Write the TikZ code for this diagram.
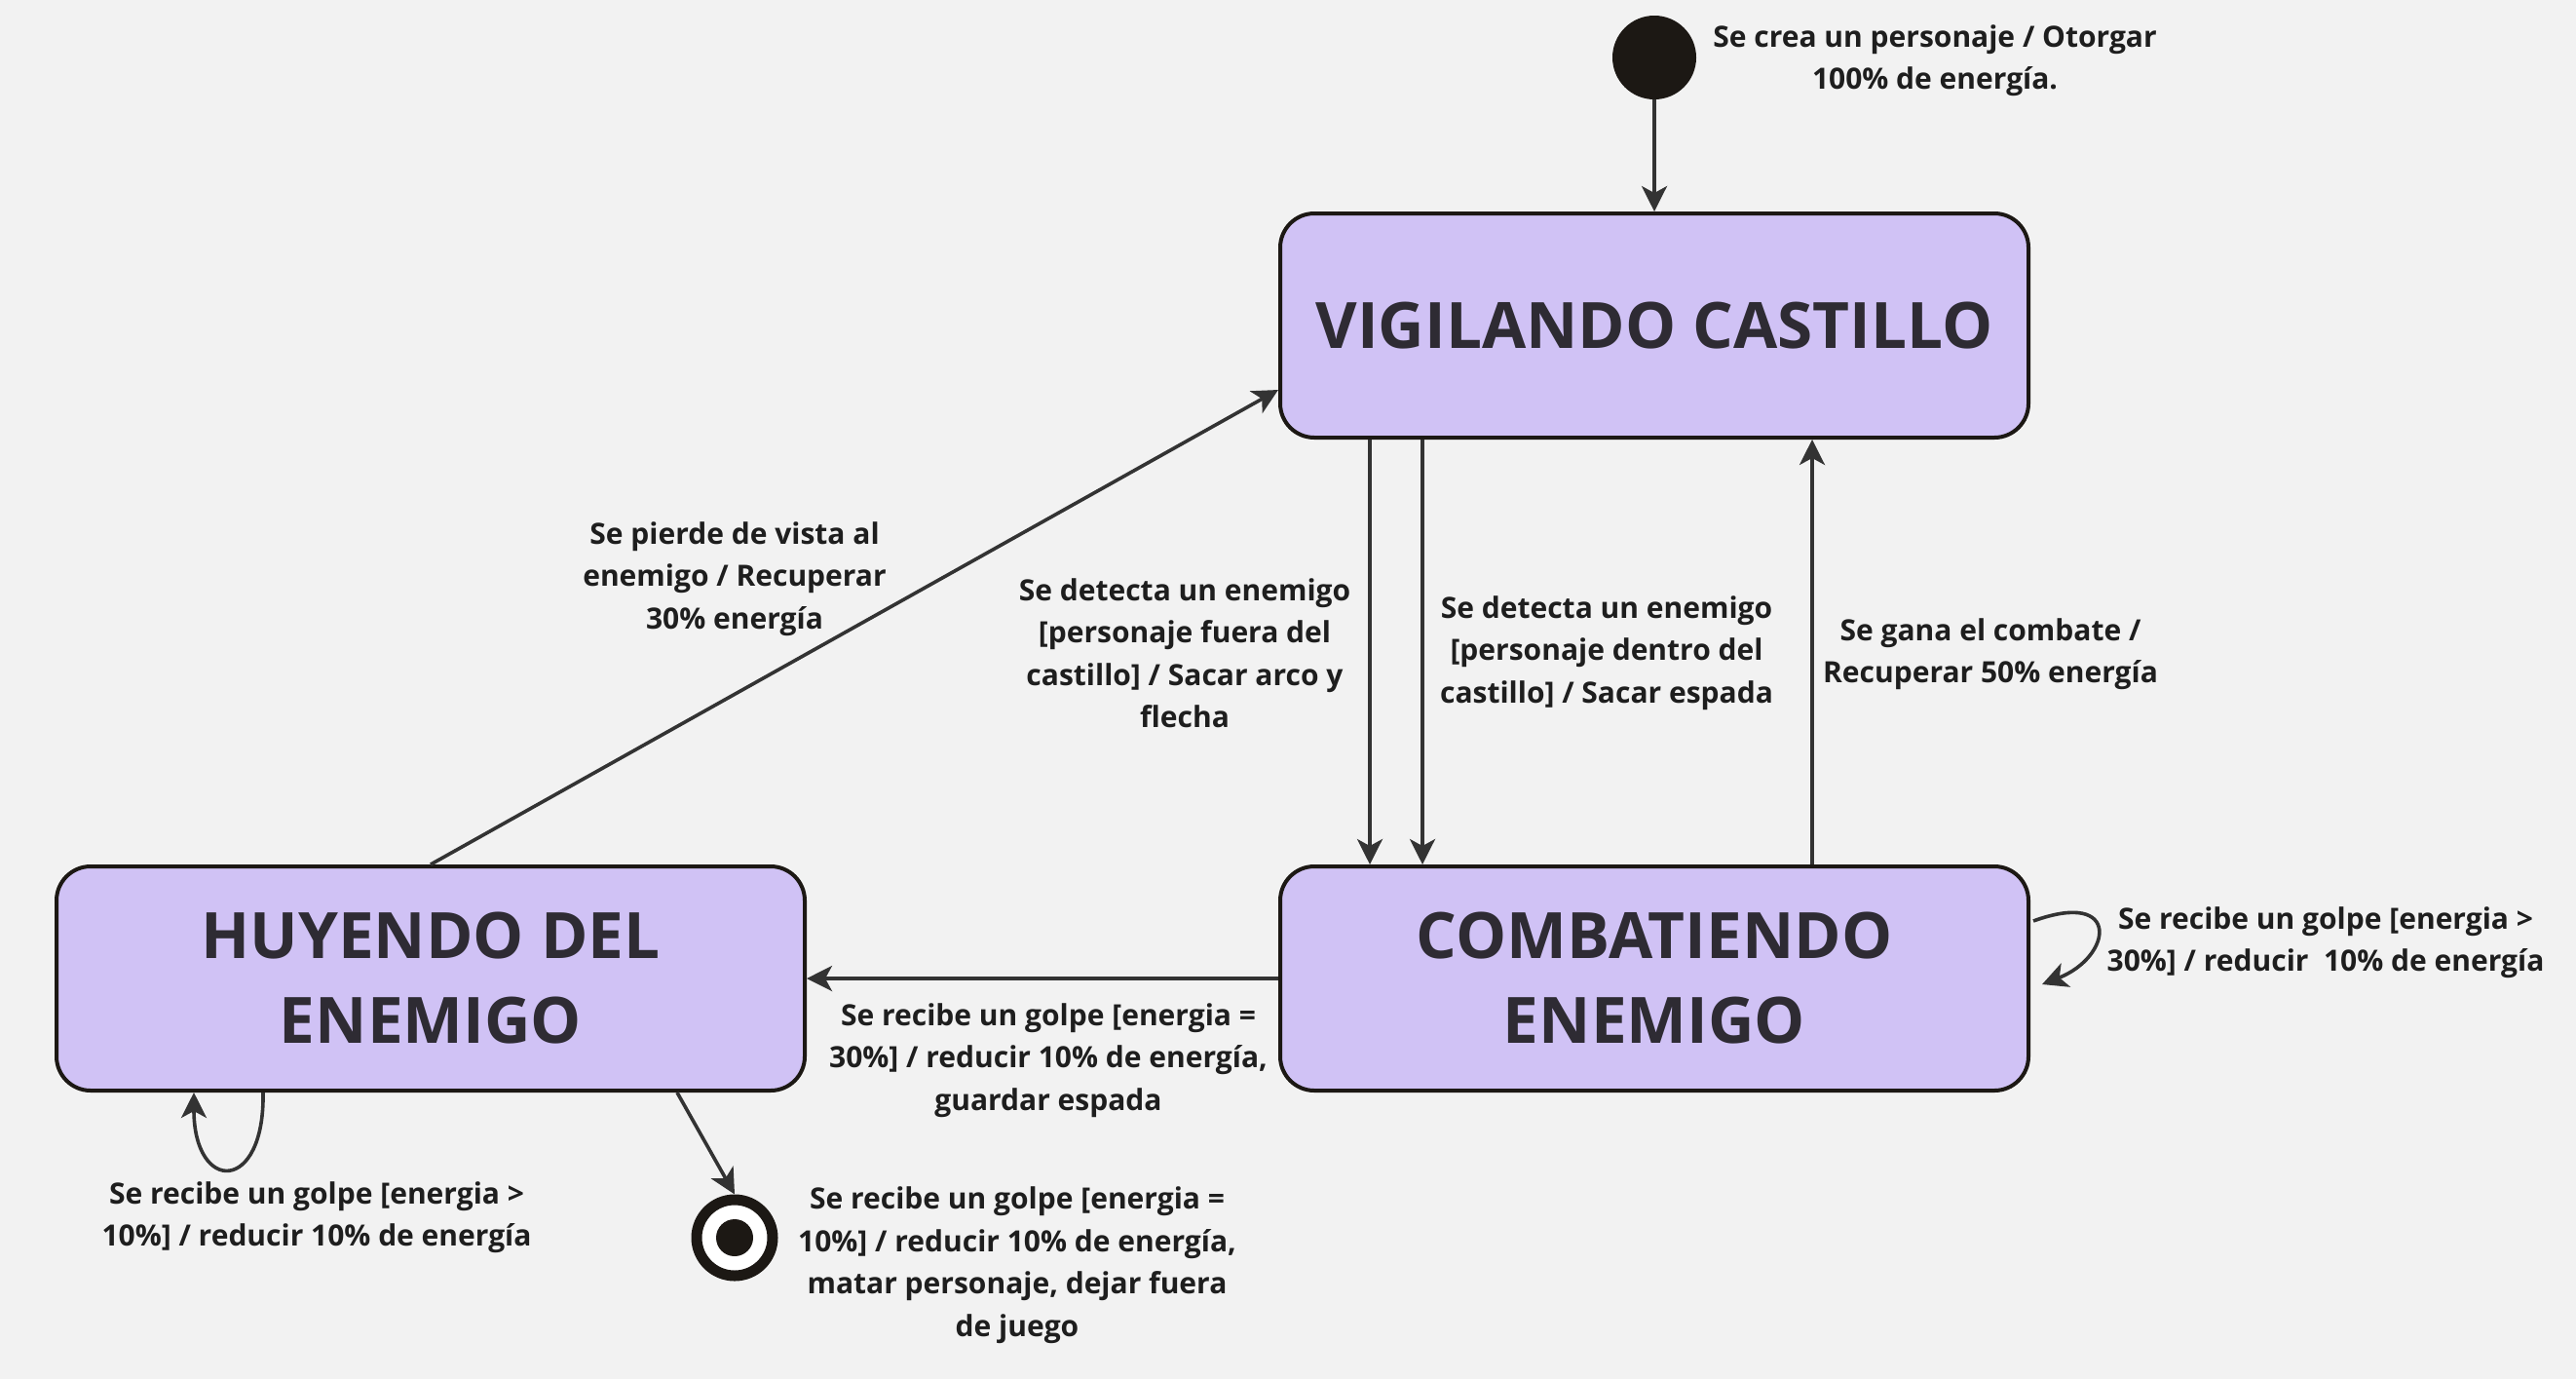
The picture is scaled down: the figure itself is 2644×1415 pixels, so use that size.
\documentclass[tikz,border=0pt]{standalone}
\usepackage{fontspec}
\setmainfont{Open Sans}
\usetikzlibrary{arrows.meta}
\definecolor{bg}{HTML}{F2F2F2}
\definecolor{boxfill}{HTML}{D0C2F5}
\definecolor{boxline}{HTML}{1C1814}
\definecolor{ink}{HTML}{2E2B33}
\definecolor{arrowc}{HTML}{333333}
\definecolor{lbl}{HTML}{1E1E1E}
\begin{document}
\begin{tikzpicture}[x=0.5pt,y=-0.5pt,
  state/.style={draw=boxline, fill=boxfill, line width=2pt, rounded corners=17.5pt,
    minimum width=384pt, minimum height=115pt, align=center, text=ink,
    font=\fontsize{32.8}{43.5}\selectfont\bfseries},
  lab/.style={align=center, text=lbl, inner sep=0pt,
    font=\fontsize{15}{21.75}\selectfont\bfseries},
  arr/.style={draw=arrowc, line width=1.8pt,
    -{Stealth[length=13pt,width=13pt,inset=3.5pt]}}]
\fill[bg] (0,0) rectangle (2644,1415);
\useasboundingbox (0,0) rectangle (2644,1415);

% states
\node[state] (vig) at (1698,334) {VIGILANDO CASTILLO};
\node[state] (comb) at (1698,1004) {COMBATIENDO\\ENEMIGO};
\node[state] (huy) at (442,1004) {HUYENDO DEL\\ENEMIGO};

% pseudo states
\node[circle, fill=boxline, draw=boxline, line width=1pt, minimum size=42pt, inner sep=0pt] (start) at (1698,59) {};
\node[circle, fill=white, draw=boxline, line width=5.5pt, minimum size=39pt, inner sep=0pt] (endc) at (754,1270) {};
\node[circle, fill=boxline, minimum size=19pt, inner sep=0pt] (enddot) at (754,1270) {};

% helper coordinates
\coordinate (xa) at (1406,0);
\coordinate (xb) at (1460,0);
\coordinate (xc) at (1860,0);
\coordinate (ya) at (0,400);
\coordinate (xd) at (695,0);
\coordinate (xe) at (270,0);
\coordinate (xf) at (199,0);
\coordinate (la) at (2087,945);
\coordinate (lb) at (2096,1010);

% connectors
\draw[arr] (start) -- (vig.north);
\draw[arr] (vig.south -| xa) -- (comb.north -| xa);
\draw[arr] (vig.south -| xb) -- (comb.north -| xb);
\draw[arr] (comb.north -| xc) -- (vig.south -| xc);
\draw[arr] (huy.north) -- (vig.west |- ya);
\draw[arr] (comb.west) -- (huy.east);
\draw[arr] (huy.south -| xd) -- (endc.north);
\draw[arr] (huy.south -| xe) .. controls (272,1225) and (199,1225) .. (huy.south -| xf);
\draw[arr] (la) .. controls (2178,912) and (2168,982) .. (lb);

% labels
\node[lab] (l0) at (1986,62) {Se crea un personaje / Otorgar\\100\% de energía.};
\node[lab] (l1) at (754,594) {Se pierde de vista al\\enemigo / Recuperar\\30\% energía};
\node[lab] (l2) at (1216,670) {Se detecta un enemigo\\{[}personaje fuera del\\castillo] / Sacar arco y\\flecha};
\node[lab] (l3) at (1649,670) {Se detecta un enemigo\\{[}personaje dentro del\\castillo] / Sacar espada};
\node[lab] (l4) at (2043,671) {Se gana el combate /\\Recuperar 50\% energía};
\node[lab] (l5) at (2387,967) {Se recibe un golpe [energia >\\30\%] / reducir\ \ 10\% de energía};
\node[lab] (l6) at (1076,1088) {Se recibe un golpe [energia =\\30\%] / reducir 10\% de energía,\\guardar espada};
\node[lab] (l7) at (325,1249) {Se recibe un golpe [energia >\\10\%] / reducir 10\% de energía};
\node[lab] (l8) at (1044,1298) {Se recibe un golpe [energia =\\10\%] / reducir 10\% de energía,\\matar personaje, dejar fuera\\de juego};
\end{tikzpicture}
\end{document}
